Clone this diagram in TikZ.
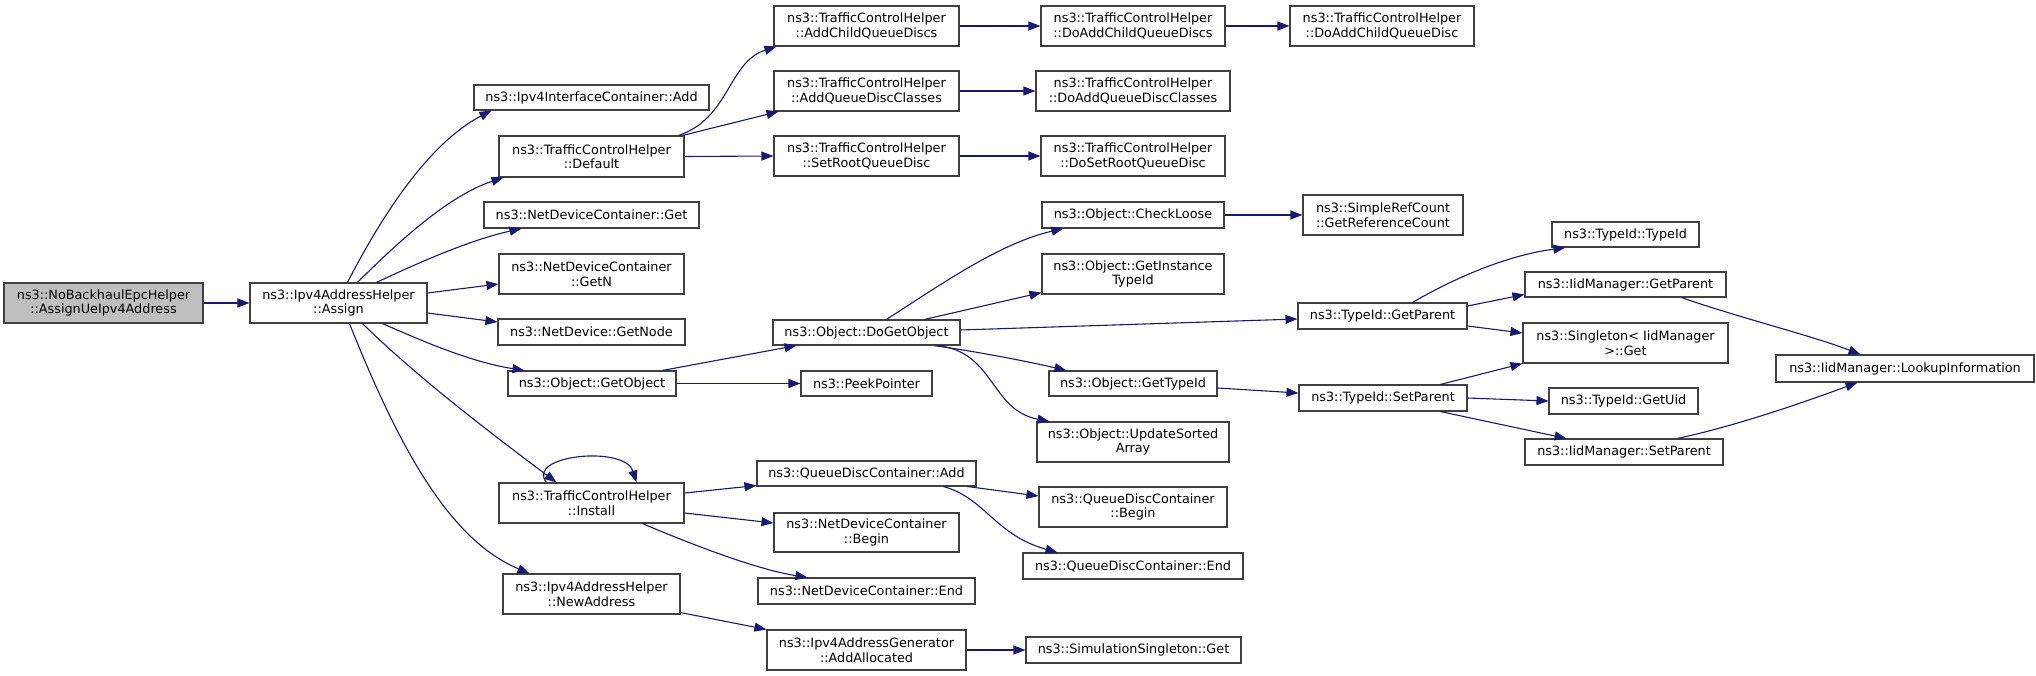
\documentclass[tikz,border=0pt]{standalone}
\usepackage{fontspec}
\setmainfont{DejaVu Sans}
\usetikzlibrary{arrows.meta,calc}
\definecolor{edgec}{HTML}{191970}
\definecolor{boxc}{HTML}{404040}
\definecolor{mainfill}{HTML}{BFBFBF}
\tikzset{
  box/.style={draw=boxc, line width=1.1pt, fill=white, inner sep=0pt, align=center,
    font=\fontsize{12.8}{14.5}\selectfont, text=black},
  mainbox/.style={box, fill=mainfill},
  call/.style={draw=edgec, line width=1.1pt, -{Triangle[length=12pt,width=9pt]}, fill=none},
}
\newcommand\mkbox[7][box]{\node[#1, minimum width={(#5-#3)*1pt}, minimum height={(#6-#4)*1pt}] (#2) at ({(#3+#5)/2},{(#4+#6)/2}) {#7};}
\begin{document}
\begin{tikzpicture}[x=1pt,y=-1pt]
\useasboundingbox (0,0) rectangle (2036,676);
% nodes
\mkbox[mainbox]{main}{4}{283}{203}{323}{ns3::NoBackhaulEpcHelper\\::AssignUeIpv4Address}
\mkbox{Assign}{250}{283}{427}{323}{ns3::Ipv4AddressHelper\\::Assign}
\mkbox{IfAdd}{474}{85}{709}{110}{ns3::Ipv4InterfaceContainer::Add}
\mkbox{Default}{499}{136}{684}{177}{ns3::TrafficControlHelper\\::Default}
\mkbox{NDCGet}{484}{202}{699}{228}{ns3::NetDeviceContainer::Get}
\mkbox{GetN}{499}{254}{684}{294}{ns3::NetDeviceContainer\\::GetN}
\mkbox{GetNode}{498}{319}{685}{345}{ns3::NetDevice::GetNode}
\mkbox{GetObject}{508}{371}{676}{396}{ns3::Object::GetObject}
\mkbox{Install}{499}{483}{684}{523}{ns3::TrafficControlHelper\\::Install}
\mkbox{NewAddr}{503}{574}{680}{614}{ns3::Ipv4AddressHelper\\::NewAddress}
\mkbox{AddChild}{774}{6}{959}{46}{ns3::TrafficControlHelper\\::AddChildQueueDiscs}
\mkbox{AddClasses}{774}{71}{959}{111}{ns3::TrafficControlHelper\\::AddQueueDiscClasses}
\mkbox{SetRoot}{774}{136}{959}{176}{ns3::TrafficControlHelper\\::SetRootQueueDisc}
\mkbox{DoGetObject}{773}{320}{960}{345}{ns3::Object::DoGetObject}
\mkbox{Peek}{801}{371}{932}{396}{ns3::PeekPointer}
\mkbox{QDCAdd}{757}{461}{976}{486}{ns3::QueueDiscContainer::Add}
\mkbox{NDCBegin}{774}{513}{959}{552}{ns3::NetDeviceContainer\\::Begin}
\mkbox{NDCEnd}{758}{578}{975}{604}{ns3::NetDeviceContainer::End}
\mkbox{AddAlloc}{767}{630}{966}{670}{ns3::Ipv4AddressGenerator\\::AddAllocated}
\mkbox{DoAddChilds}{1041}{6}{1225}{46}{ns3::TrafficControlHelper\\::DoAddChildQueueDiscs}
\mkbox{DoAddClasses}{1036}{71}{1230}{111}{ns3::TrafficControlHelper\\::DoAddQueueDiscClasses}
\mkbox{DoSetRoot}{1041}{136}{1225}{176}{ns3::TrafficControlHelper\\::DoSetRootQueueDisc}
\mkbox{CheckLoose}{1042}{202}{1224}{228}{ns3::Object::CheckLoose}
\mkbox{GetInst}{1042}{254}{1224}{294}{ns3::Object::GetInstance\\TypeId}
\mkbox{ObjGetTypeId}{1049}{371}{1217}{396}{ns3::Object::GetTypeId}
\mkbox{UpdSorted}{1037}{422}{1229}{462}{ns3::Object::UpdateSorted\\Array}
\mkbox{QDCBegin}{1039}{487}{1227}{527}{ns3::QueueDiscContainer\\::Begin}
\mkbox{QDCEnd}{1023}{553}{1243}{579}{ns3::QueueDiscContainer::End}
\mkbox{SimSing}{1026}{637}{1241}{663}{ns3::SimulationSingleton::Get}
\mkbox{DoAddChild}{1290}{6}{1474}{46}{ns3::TrafficControlHelper\\::DoAddChildQueueDisc}
\mkbox{SimpleRef}{1303}{195}{1463}{235}{ns3::SimpleRefCount\\::GetReferenceCount}
\mkbox{TGetParent}{1298}{303}{1467}{329}{ns3::TypeId::GetParent}
\mkbox{TSetParent}{1299}{385}{1467}{411}{ns3::TypeId::SetParent}
\mkbox{TTypeId}{1552}{222}{1699}{247}{ns3::TypeId::TypeId}
\mkbox{IGetParent}{1525}{272}{1726}{297}{ns3::IidManager::GetParent}
\mkbox{Singleton}{1523}{323}{1728}{363}{ns3::Singleton< IidManager\\>::Get}
\mkbox{GetUid}{1549}{388}{1698}{414}{ns3::TypeId::GetUid}
\mkbox{ISetParent}{1525}{439}{1723}{465}{ns3::IidManager::SetParent}
\mkbox{Lookup}{1776}{355}{2034}{382}{ns3::IidManager::LookupInformation}
% edges
\draw[call] (main.east) -- (Assign.west);
\draw[call] ($(Assign.north west)+(98,0)$) .. controls (390,200) and (435,140) .. ($(IfAdd.south west)+(18,0)$);
\draw[call] ($(Assign.north west)+(108,0)$) .. controls (400,240) and (450,195) .. ($(Default.south west)+(5,0)$);
\draw[call] ($(Assign.north west)+(127,0)$) .. controls (420,262) and (470,240) .. ($(NDCGet.south west)+(38,0)$);
\draw[call] ($(Assign.east)+(0,-10)$) -- ($(GetN.west)+(0,10)$);
\draw[call] ($(Assign.east)+(0,10)$) -- ($(GetNode.west)+(0,-10)$);
\draw[call] ($(Assign.south west)+(133,0)$) .. controls (420,340) and (470,362) .. ($(GetObject.north west)+(17,0)$);
\draw[call] ($(Assign.south west)+(113,0)$) .. controls (420,380) and (500,440) .. ($(Install.north west)+(58,0)$);
\draw[call] ($(Assign.south west)+(100,0)$) .. controls (400,450) and (450,540) .. ($(NewAddr.north west)+(27,0)$);
\draw[call] ($(Install.north west)+(48,0)$) .. controls (525,455) and (625,445) .. ($(Install.north west)+(138,0)$);
\draw[call] ($(Default.north east)+(-6,0)$) .. controls (730,118) and (728,62) .. ($(AddChild.south west)+(3,0)$);
\draw[call] ($(Default.north east)+(-2,0)$) -- ($(AddClasses.south west)+(5,0)$);
\draw[call] (Default.east) -- (SetRoot.west);
\draw[call] (AddChild.east) -- (DoAddChilds.west);
\draw[call] (AddClasses.east) -- (DoAddClasses.west);
\draw[call] (SetRoot.east) -- (DoSetRoot.west);
\draw[call] (DoAddChilds.east) -- (DoAddChild.west);
\draw[call] ($(GetObject.north west)+(155,0)$) -- ($(DoGetObject.south west)+(24,0)$);
\draw[call] (GetObject.east) -- (Peek.west);
\draw[call] ($(DoGetObject.north west)+(114,0)$) .. controls (940,285) and (1000,243) .. ($(CheckLoose.south west)+(22,0)$);
\draw[call] ($(DoGetObject.north west)+(152,0)$) -- ($(GetInst.south west)+(0,-2)$);
\draw[call] ($(DoGetObject.east)+(0,-2.5)$) -- ($(TGetParent.west)+(0,3)$);
\draw[call] ($(DoGetObject.south east)+(-27,0)$) .. controls (980,352) and (1030,362) .. ($(ObjGetTypeId.north west)+(18,0)$);
\draw[call] ($(DoGetObject.south east)+(-23,0)$) .. controls (995,352) and (990,410) .. ($(UpdSorted.north west)+(13,0)$);
\draw[call] (CheckLoose.east) -- (SimpleRef.west);
\draw[call] ($(ObjGetTypeId.east)+(0,4.5)$) -- ($(TSetParent.west)+(0,-5)$);
\draw[call] ($(TGetParent.north west)+(115,0)$) .. controls (1460,275) and (1510,255) .. ($(TTypeId.south west)+(14,0)$);
\draw[call] ($(TGetParent.east)+(0,-10)$) -- ($(IGetParent.west)+(0,10)$);
\draw[call] ($(TGetParent.east)+(0,10)$) -- ($(Singleton.west)+(0,-10)$);
\draw[call] ($(TSetParent.north west)+(142,0)$) -- (Singleton.south west);
\draw[call] (TSetParent.east) -- (GetUid.west);
\draw[call] ($(TSetParent.south west)+(142,0)$) -- ($(ISetParent.north west)+(42,0)$);
\draw[call] ($(IGetParent.south west)+(157,0)$) .. controls (1740,318) and (1810,335) .. ($(Lookup.north west)+(85,0)$);
\draw[call] ($(ISetParent.north west)+(153,0)$) .. controls (1740,425) and (1810,400) .. ($(Lookup.south west)+(82,0)$);
\draw[call] ($(Install.east)+(0,-10)$) -- ($(QDCAdd.south west)+(0,-1)$);
\draw[call] ($(Install.east)+(0,10)$) -- ($(NDCBegin.west)+(0,-9.5)$);
\draw[call] ($(Install.south west)+(144,0)$) .. controls (700,548) and (760,570) .. ($(NDCEnd.north west)+(50,0)$);
\draw[call] ($(QDCAdd.south east)+(-9,0)$) -- ($(QDCBegin.west)+(0,-11)$);
\draw[call] ($(QDCAdd.south east)+(-33,0)$) .. controls (985,498) and (995,535) .. ($(QDCEnd.north west)+(35,0)$);
\draw[call] ($(NewAddr.south east)+(0,-2)$) -- (AddAlloc.north west);
\draw[call] (AddAlloc.east) -- (SimSing.west);
\end{tikzpicture}
\end{document}
